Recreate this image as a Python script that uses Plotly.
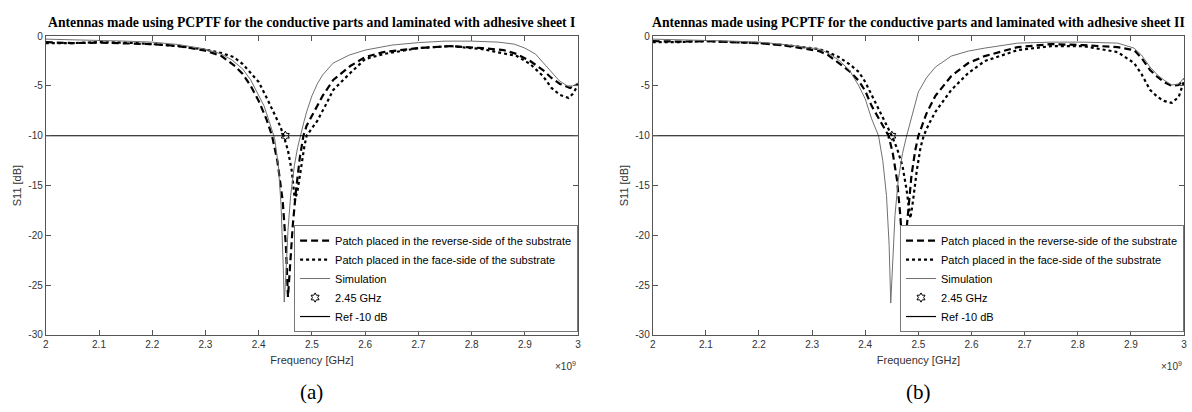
import plotly.graph_objects as go

# ---------------- data ----------------
x_ticks = [2.0, 2.1, 2.2, 2.3, 2.4, 2.5, 2.6, 2.7, 2.8, 2.9, 3.0]
x_tick_labels = ["2", "2.1", "2.2", "2.3", "2.4", "2.5", "2.6", "2.7", "2.8", "2.9", "3"]
y_ticks = [-30, -25, -20, -15, -10, -5, 0]
y_tick_labels = ["-30", "-25", "-20", "-15", "-10", "-5", "0"]

titles = ["Antennas made using PCPTF for the conductive parts and laminated with adhesive sheet I",
          "Antennas made using PCPTF for the conductive parts and laminated with adhesive sheet II"]
panel_labels = ["(a)", "(b)"]
series_names = ["Patch placed in the reverse-side of the substrate",
                "Patch placed in the face-side of the substrate",
                "Simulation", "2.45 GHz", "Ref -10 dB"]

# Panel (a)
a_sim_f = [2.00, 2.05, 2.10, 2.15, 2.20, 2.25, 2.30, 2.33, 2.35, 2.37, 2.385, 2.40, 2.41, 2.42, 2.43, 2.437,
           2.442, 2.446, 2.448, 2.451, 2.455, 2.46, 2.467, 2.473, 2.478, 2.485, 2.49, 2.50, 2.51, 2.52, 2.54,
           2.57, 2.60, 2.65, 2.70, 2.75, 2.80, 2.85, 2.88, 2.90, 2.92, 2.93, 2.95, 2.965, 2.98, 2.99, 3.00]
a_sim_s = [-0.3, -0.35, -0.4, -0.5, -0.6, -0.85, -1.3, -1.8, -2.4, -3.3, -4.4, -5.9, -7.0, -8.6, -10.3, -13.0,
           -17.0, -23.0, -26.7, -24.0, -19.5, -16.0, -13.0, -11.2, -10.0, -8.6, -7.6, -6.0, -4.8, -3.9, -2.7,
           -1.9, -1.4, -0.9, -0.65, -0.5, -0.5, -0.6, -0.8, -1.2, -1.8, -2.4, -3.6, -4.5, -5.0, -5.0, -4.7]

a_rev_f = [2.00, 2.05, 2.10, 2.15, 2.20, 2.25, 2.30, 2.33, 2.353, 2.37, 2.385, 2.40, 2.415, 2.425, 2.435, 2.445,
           2.451, 2.455, 2.459, 2.464, 2.47, 2.477, 2.484, 2.49, 2.50, 2.51, 2.52, 2.54, 2.572, 2.60, 2.634,
           2.70, 2.76, 2.82, 2.86, 2.885, 2.91, 2.934, 2.95, 2.966, 2.985, 3.00]
a_rev_s = [-0.6, -0.7, -0.65, -0.7, -0.8, -1.0, -1.45, -2.0, -2.9, -3.8, -5.0, -6.5, -8.4, -10.0, -12.5, -16.5,
           -21.0, -26.2, -23.0, -19.0, -15.5, -12.3, -10.0, -9.0, -8.0, -7.0, -6.0, -4.4, -3.0, -2.1, -1.6,
           -1.2, -1.0, -1.2, -1.4, -1.8, -2.5, -3.4, -4.2, -4.8, -5.2, -4.8]

a_face_f = [2.00, 2.05, 2.10, 2.15, 2.20, 2.25, 2.30, 2.33, 2.353, 2.37, 2.385, 2.40, 2.416, 2.43, 2.44, 2.447,
            2.455, 2.462, 2.468, 2.473, 2.48, 2.486, 2.49, 2.50, 2.51, 2.525, 2.54, 2.572, 2.60, 2.634, 2.70,
            2.76, 2.82, 2.885, 2.91, 2.934, 2.95, 2.966, 2.982, 2.99, 3.00]
a_face_s = [-0.7, -0.7, -0.6, -0.65, -0.8, -1.0, -1.35, -1.7, -2.1, -2.8, -3.7, -4.6, -6.3, -7.9, -9.0, -10.0,
            -11.5, -13.5, -16.5, -15.5, -13.0, -11.0, -10.0, -9.2, -8.5, -7.0, -5.4, -3.7, -2.3, -1.8, -1.2,
            -1.0, -1.3, -2.0, -2.8, -4.0, -5.2, -5.9, -6.2, -5.8, -4.9]

# Panel (b)
b_sim_f = [2.00, 2.05, 2.10, 2.15, 2.20, 2.25, 2.30, 2.313, 2.33, 2.35, 2.37, 2.388, 2.40, 2.412, 2.425, 2.433,
           2.44, 2.445, 2.448, 2.451, 2.456, 2.462, 2.47, 2.478, 2.49, 2.50, 2.515, 2.532, 2.562, 2.594, 2.625,
           2.687, 2.75, 2.81, 2.875, 2.906, 2.92, 2.936, 2.95, 2.962, 2.977, 2.99, 3.00]
b_sim_s = [-0.3, -0.35, -0.4, -0.5, -0.6, -0.85, -1.2, -1.3, -1.7, -2.4, -3.4, -5.0, -6.3, -8.3, -10.0, -12.5,
           -16.0, -21.0, -26.8, -23.0, -18.0, -14.5, -11.8, -10.0, -7.5, -5.6, -4.2, -3.1, -2.0, -1.5, -1.2,
           -0.7, -0.6, -0.6, -0.7, -1.2, -1.9, -3.1, -3.9, -4.4, -4.9, -4.8, -4.2]

b_rev_f = [2.00, 2.05, 2.10, 2.15, 2.20, 2.25, 2.30, 2.313, 2.33, 2.35, 2.37, 2.388, 2.40, 2.412, 2.425, 2.435,
           2.444, 2.452, 2.46, 2.466, 2.471, 2.475, 2.48, 2.487, 2.494, 2.50, 2.515, 2.532, 2.562, 2.594, 2.625,
           2.687, 2.75, 2.81, 2.875, 2.906, 2.92, 2.936, 2.95, 2.962, 2.977, 2.99, 3.00]
b_rev_s = [-0.5, -0.55, -0.5, -0.6, -0.7, -0.95, -1.35, -1.5, -1.9, -2.7, -3.5, -4.5, -5.5, -7.0, -8.2, -9.2,
           -10.0, -11.8, -14.5, -18.0, -22.0, -21.0, -18.0, -14.0, -11.5, -10.0, -7.8, -6.0, -4.0, -2.7, -2.0,
           -1.1, -0.8, -0.9, -1.1, -1.4, -2.2, -3.4, -4.1, -4.6, -5.0, -4.9, -4.3]

b_face_f = [2.00, 2.05, 2.10, 2.15, 2.20, 2.25, 2.30, 2.313, 2.33, 2.35, 2.37, 2.388, 2.40, 2.412, 2.425, 2.44,
            2.45, 2.46, 2.47, 2.478, 2.485, 2.49, 2.497, 2.504, 2.51, 2.52, 2.532, 2.562, 2.594, 2.625, 2.687,
            2.75, 2.81, 2.875, 2.906, 2.92, 2.936, 2.95, 2.962, 2.977, 2.99, 3.00]
b_face_s = [-0.6, -0.6, -0.5, -0.6, -0.7, -0.9, -1.2, -1.3, -1.6, -2.1, -2.8, -3.6, -4.6, -5.9, -7.3, -8.9,
            -10.0, -11.3, -13.0, -15.5, -18.3, -16.5, -13.5, -11.2, -10.0, -8.8, -7.6, -5.4, -3.7, -2.5, -1.4,
            -1.0, -1.0, -1.6, -2.7, -3.8, -5.4, -6.1, -6.5, -6.7, -6.1, -4.5]

marker_f = [2.45]
marker_s = [-10.0]
ref_f = [2.0, 3.0]
ref_s = [-10.0, -10.0]

panels = [
    (a_rev_f, a_rev_s, a_face_f, a_face_s, a_sim_f, a_sim_s),
    (b_rev_f, b_rev_s, b_face_f, b_face_s, b_sim_f, b_sim_s),
]

# ---------------- figure ----------------
W, H = 1192, 412
x_domains = [[43 / W, 578 / W], [653 / W, 1187 / W]]
y_domain = [1 - 339 / H, 1 - 32 / H]

fig = go.Figure()
for i, (rf, rs, ff, fs, sf, ss) in enumerate(panels):
    xa = "x" if i == 0 else "x2"
    ya = "y" if i == 0 else "y2"
    lg = "legend" if i == 0 else "legend2"
    fig.add_trace(go.Scatter(x=rf, y=rs, mode="lines", name=series_names[0], xaxis=xa, yaxis=ya, legend=lg,
                             line=dict(color="black", width=2.2, dash="7px,4px")))
    fig.add_trace(go.Scatter(x=ff, y=fs, mode="lines", name=series_names[1], xaxis=xa, yaxis=ya, legend=lg,
                             line=dict(color="black", width=2.2, dash="dot")))
    fig.add_trace(go.Scatter(x=sf, y=ss, mode="lines", name=series_names[2], xaxis=xa, yaxis=ya, legend=lg,
                             line=dict(color="#707070", width=1)))
    fig.add_trace(go.Scatter(x=marker_f, y=marker_s, mode="markers", name=series_names[3], xaxis=xa, yaxis=ya,
                             legend=lg, marker=dict(symbol="hexagram-open", size=7, color="black",
                                                    line=dict(width=1, color="black"))))
    fig.add_trace(go.Scatter(x=ref_f, y=ref_s, mode="lines", name=series_names[4], xaxis=xa, yaxis=ya, legend=lg,
                             line=dict(color="black", width=1.2)))

axis_common = dict(showline=True, linecolor="#555555", linewidth=1, mirror="ticks", ticks="inside",
                   ticklen=5, tickcolor="#555555", showgrid=False, zeroline=False,
                   tickfont=dict(family="Liberation Sans, Arial", size=10, color="#333333"))

for i in range(2):
    sfx = "" if i == 0 else "2"
    fig.update_layout(**{
        "xaxis" + sfx: dict(axis_common, domain=x_domains[i], range=[2, 3], tickvals=x_ticks,
                            ticktext=x_tick_labels, anchor="y" + sfx,
                            title=dict(text="Frequency [GHz]", standoff=7,
                                       font=dict(family="Liberation Sans, Arial", size=11, color="#333333"))),
        "yaxis" + sfx: dict(axis_common, domain=y_domain, range=[-30, 0], tickvals=y_ticks,
                            ticktext=y_tick_labels, anchor="x" + sfx,
                            title=dict(text="S11 [dB]", standoff=4,
                                       font=dict(family="Liberation Sans, Arial", size=11, color="#333333"))),
    })

legend_common = dict(bgcolor="white", bordercolor="#777777", borderwidth=1,
                     font=dict(family="Liberation Sans, Arial", size=11, color="black"),
                     xanchor="right", yanchor="bottom", itemwidth=30, tracegroupgap=0)
fig.update_layout(
    legend=dict(legend_common, x=578 / W, y=1 - 336 / H),
    legend2=dict(legend_common, x=1187 / W, y=1 - 336 / H),
)

annotations = []
for i in range(2):
    cx = (x_domains[i][0] + x_domains[i][1]) / 2
    annotations.append(dict(text="<b>" + titles[i] + "</b>", x=cx, y=1 - 18 / H, xref="paper", yref="paper",
                            showarrow=False, xanchor="center", yanchor="middle",
                            font=dict(family="Liberation Serif, Times New Roman", size=13.7, color="black")))
    annotations.append(dict(text=panel_labels[i], x=cx, y=1 - 398 / H, xref="paper", yref="paper",
                            showarrow=False, xanchor="center", yanchor="middle",
                            font=dict(family="Liberation Serif, Times New Roman", size=21, color="black")))
    annotations.append(dict(text="×10<sup>9</sup>", x=x_domains[i][1], y=1 - 371 / H, xref="paper", yref="paper",
                            showarrow=False, xanchor="right", yanchor="middle",
                            font=dict(family="Liberation Sans, Arial", size=10, color="#333333")))

fig.update_layout(
    width=W, height=H, margin=dict(l=0, r=0, t=0, b=0),
    paper_bgcolor="white", plot_bgcolor="white",
    annotations=annotations, showlegend=True,
)

fig.write_html("out.html", config={"displayModeBar": False},
               post_script="document.body.style.margin='0px';")
